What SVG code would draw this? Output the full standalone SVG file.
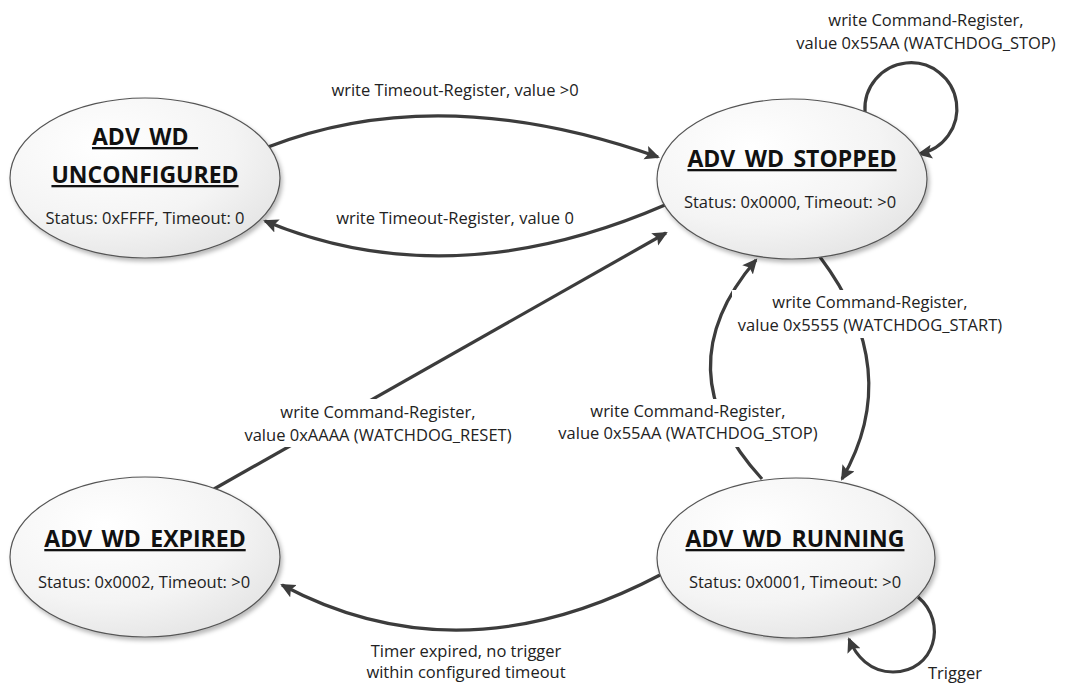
<svg xmlns="http://www.w3.org/2000/svg" width="1066" height="684" viewBox="0 0 1066 684">
<defs>
<radialGradient id="fillG" cx="0.35" cy="0.3" r="0.8">
<stop offset="0" stop-color="#ffffff"/>
<stop offset="0.6" stop-color="#f4f4f4"/>
<stop offset="1" stop-color="#e3e3e3"/>
</radialGradient>
<filter id="sh" x="-10%" y="-10%" width="125%" height="130%">
<feDropShadow dx="2" dy="3" stdDeviation="2" flood-color="#000" flood-opacity="0.28"/>
</filter>
<marker id="arr" markerUnits="userSpaceOnUse" markerWidth="18" markerHeight="16" refX="13" refY="7" orient="auto">
<path d="M0,0 L15,7 L0,14 L3,7 z" fill="#3c3c3c"/>
</marker>
<style>
.st{fill:url(#fillG);stroke:#555;stroke-width:1.2;filter:url(#sh)}
.ttl{font-family:"Open Sans","Liberation Sans",sans-serif;font-weight:bold;font-size:23px;fill:#111;text-anchor:middle;text-decoration:underline}
.sts{font-family:"Open Sans","Liberation Sans",sans-serif;font-size:16.5px;fill:#222;text-anchor:middle}
.lbl{font-family:"Open Sans","Liberation Sans",sans-serif;font-size:16.5px;fill:#222;text-anchor:middle}
.cn{fill:none;stroke:#3c3c3c;stroke-width:3.2}
.cna{fill:none;stroke:#3c3c3c;stroke-width:3.2;marker-end:url(#arr)}
</style>
</defs>
<rect width="1066" height="684" fill="#fff"/>

<g id="connectors">
<path class="cna" d="M268 147 Q440 80 658 157"/>
<path class="cna" d="M665 205 Q450 298 265 221"/>
<path class="cna" d="M865 112 A46 46 0 1 1 919 154"/>
<path class="cna" d="M820 257 Q905 370 842 479"/>
<path class="cna" d="M762 479 Q662 370 756 260"/>
<path class="cna" d="M214 489 L666 233"/>
<path class="cna" d="M660 575 Q460 680 282 585"/>
<path class="cna" d="M918 597 C948 622 935 672 893 672 C870 672 856 656 849 639"/>
</g>

<g id="labels">
<text class="lbl" x="455" y="96">write Timeout-Register, value &gt;0</text>
<text class="lbl" x="455" y="224">write Timeout-Register, value 0</text>
<text class="lbl" x="926" y="26">write Command-Register,</text>
<text class="lbl" x="926" y="49">value 0x55AA (WATCHDOG_STOP)</text>
<rect x="732" y="290" width="278" height="48" fill="#fff"/>
<text class="lbl" x="870" y="308">write Command-Register,</text>
<text class="lbl" x="870" y="331">value 0x5555 (WATCHDOG_START)</text>
<rect x="238" y="399" width="282" height="48" fill="#fff"/>
<text class="lbl" x="378" y="418">write Command-Register,</text>
<text class="lbl" x="378" y="441">value 0xAAAA (WATCHDOG_RESET)</text>
<rect x="553" y="399" width="270" height="48" fill="#fff"/>
<text class="lbl" x="688" y="417">write Command-Register,</text>
<text class="lbl" x="688" y="439">value 0x55AA (WATCHDOG_STOP)</text>
<text class="lbl" x="466" y="657">Timer expired, no trigger</text>
<text class="lbl" x="466" y="678">within configured timeout</text>
<text class="lbl" x="955" y="679">Trigger</text>
</g>

<g id="unconfigured">
<ellipse class="st" cx="145" cy="178" rx="135" ry="80"/>
<text class="ttl" x="145" y="145">ADV_WD_</text>
<text class="ttl" x="145" y="183">UNCONFIGURED</text>
<text class="sts" x="145" y="224">Status: 0xFFFF, Timeout: 0</text>
</g>

<g id="stopped">
<ellipse class="st" cx="792" cy="179" rx="135" ry="80"/>
<text class="ttl" x="792" y="167">ADV_WD_STOPPED</text>
<text class="sts" x="790" y="208">Status: 0x0000, Timeout: &gt;0</text>
</g>

<g id="expired">
<ellipse class="st" cx="145" cy="557" rx="135" ry="80"/>
<text class="ttl" x="145" y="547">ADV_WD_EXPIRED</text>
<text class="sts" x="144" y="588">Status: 0x0002, Timeout: &gt;0</text>
</g>

<g id="running">
<ellipse class="st" cx="796" cy="558" rx="139" ry="80"/>
<text class="ttl" x="795" y="547">ADV_WD_RUNNING</text>
<text class="sts" x="795" y="588">Status: 0x0001, Timeout: &gt;0</text>
</g>
</svg>
